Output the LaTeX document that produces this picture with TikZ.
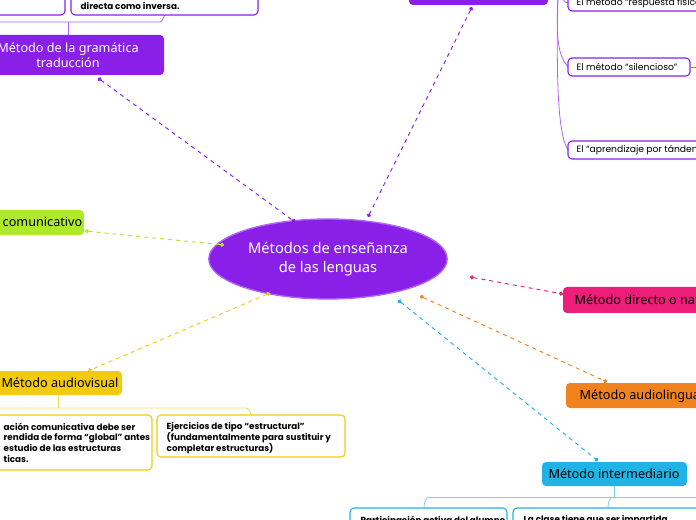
\documentclass[tikz,border=0pt]{standalone}
\usepackage{fontspec}
\setmainfont{Noto Sans}
\newfontfamily\subf{Poppins}
\usetikzlibrary{shapes.geometric,arrows.meta}
\definecolor{purp}{HTML}{8A1FE8}
\definecolor{purpl}{HTML}{B066F5}
\definecolor{grn}{HTML}{AEEA2A}
\definecolor{pnk}{HTML}{EC1E79}
\definecolor{org}{HTML}{F0831E}
\definecolor{blu}{HTML}{1FB3E6}
\definecolor{yel}{HTML}{F3CB0E}
\tikzset{
 x=0.75pt,y=-0.75pt,
 sub/.style={rounded corners=3pt,draw,line width=0.8pt,fill=white},
 subt/.style={font=\subf\bfseries\fontsize{6.6}{8.2}\selectfont,align=left},
 subn/.style={font=\subf\fontsize{6.9}{8}\selectfont,anchor=west},
 conn/.style={dashed,line width=0.7pt,{Circle[length=3pt]}-{Circle[length=3pt]}},
 brk/.style={line width=0.6pt}
}
\begin{document}
\begin{tikzpicture}
\useasboundingbox (0,0) rectangle (696,520);
\clip (0,0) rectangle (696,520);
\fill[white] (0,0) rectangle (696,520);
% top-left purple subtopics
\draw[purpl,brk] (-10,22) -- (160,22) to[out=0,in=90] (165,15);
\draw[purpl,brk] (68,22) -- (68,35);
\draw[sub,draw=purp] (-20,-10) rectangle (65,15);
\draw[sub,draw=purp] (71,-10) rectangle (258,15);
\node[subt,anchor=west] (t1) at (76,6) {directa como inversa.};
% gramatica traduccion
\fill[purp,rounded corners=3pt] (-5,35) rectangle (164,75);
\node[text=white,align=center,font=\fontsize{9.5}{11.5}\selectfont] (gramt) at (68,55) {Método de la gramática\\traducción};
% top purple
\fill[purp,rounded corners=3pt] (409,-10) rectangle (548,5);
\coordinate (topp) at (472,7);
% right purple subtopics
\draw[purpl,brk] (558,-5) to[out=90,in=180] (568,3);
\draw[purpl,brk] (558,-5) .. controls (556,40) and (558,55) .. (568,67);
\draw[purpl,brk] (558,-5) .. controls (556,80) and (558,135) .. (568,150);
\draw[sub,draw=purp] (568,-6) rectangle (710,11);
\node[subn] (s1) at (572,3) {El método “respuesta física”};
\draw[sub,draw=purp] (568,58) rectangle (690,76);
\node[subn] (s2) at (572,67) {El método “silencioso”};
\draw[purpl,brk] (690,67) -- (700,67);
\draw[sub,draw=purp] (568,141) rectangle (710,159);
\node[subn] (s3) at (572,150) {El “aprendizaje por tándem”};
% center
\node[ellipse,fill=purp,draw=purpl,line width=1pt,text=white,align=center,font=\fontsize{11}{14}\selectfont,minimum width=170pt,minimum height=60pt] (c) at (328,259) {Métodos de enseñanza\\de las lenguas};
% comunicativo
\fill[grn,rounded corners=3pt] (-10,210) rectangle (84,235);
\node[anchor=west,font=\fontsize{9.5}{11}\selectfont] (com) at (-2,222) {comunicativo};
% directo
\fill[pnk,rounded corners=3pt] (563,287) rectangle (710,313);
\node[anchor=west,font=\fontsize{9.5}{11}\selectfont] (dir) at (570,300) {Método directo o natural};
% audiolingual
\fill[org,rounded corners=3pt] (566,383) rectangle (710,408);
\node[anchor=west,font=\fontsize{9.5}{11}\selectfont] (aul) at (575,396) {Método audiolingual};
% intermediario
\fill[blu,rounded corners=3pt] (542,462) rectangle (687,486);
\node[font=\fontsize{9.5}{11}\selectfont] (int) at (614,474) {Método intermediario};
% audiovisual
\fill[yel,rounded corners=3pt] (-5,371) rectangle (122,395);
\node[font=\fontsize{9.5}{11}\selectfont] (av) at (60,383) {Método audiovisual};
% connectors
\draw[conn,purp] (98,78) -- (295,222);
\draw[conn,purp] (topp) -- (368,217);
\draw[conn,grn] (85,231) -- (224,245);
\draw[conn,pnk] (470,277) -- (563,294);
\draw[conn,org] (420,296) -- (607,382);
\draw[conn,blu] (398,300) -- (598,461);
\draw[conn,yel] (270,293) -- (88,371);
% yellow subtopics
\draw[yel!70,brk] (58,395) -- (58,408);
\draw[yel!70,brk] (-10,408) -- (245,408) to[out=0,in=90] (251,415);
\draw[sub,draw=yel] (-10,415) rectangle (152,470);
\node[subt,anchor=north west] (y1) at (-1,418) {ación comunicativa debe ser\\rendida de forma “global” antes\\ estudio de las estructuras\\ticas.};
\draw[sub,draw=yel] (157,415) rectangle (345,457);
\node[subt,anchor=north west] (y2) at (162,418) {Ejercicios de tipo “estructural”\\(fundamentalmente para sustituir y\\completar estructuras)};
% blue subtopics
\draw[blu!60,brk] (614,486) -- (614,497);
\draw[blu!60,brk] (430,497) -- (700,497);
\draw[blu!60,brk] (430,497) to[out=180,in=90] (424,508);
\draw[blu!60,brk] (614,497) to[out=180,in=90] (608,508);
\draw[sub,draw=blu] (350,508) rectangle (507,530);
\node[subt,anchor=north west] (b1) at (356,511) {Participación activa del alumno};
\draw[sub,draw=blu] (513,508) rectangle (710,530);
\node[subt,anchor=north west] (b2) at (519,511) {La clase tiene que ser impartida,};
\end{tikzpicture}
\end{document}
